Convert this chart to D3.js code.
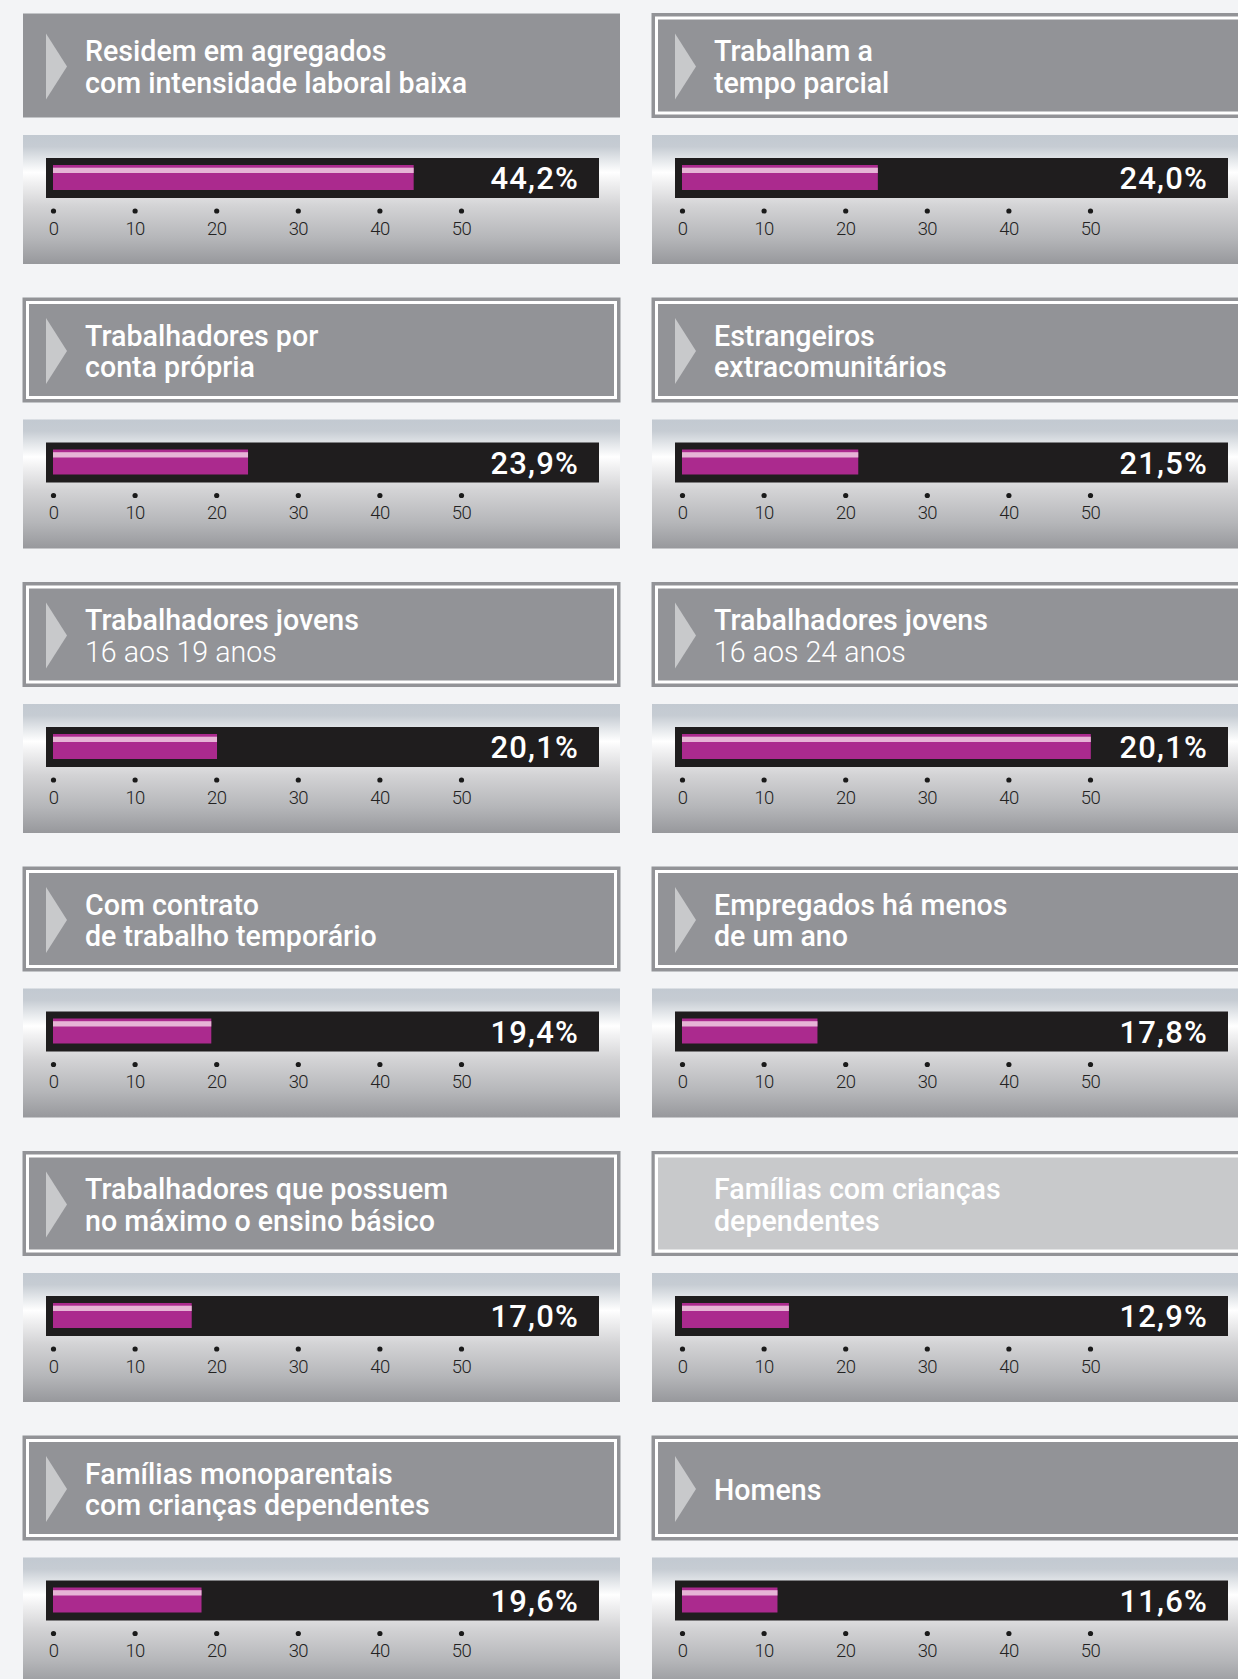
<!DOCTYPE html>
<html><head><meta charset="utf-8">
<script src="https://cdn.jsdelivr.net/npm/d3@7/dist/d3.min.js"></script>
<style>html,body{margin:0;padding:0;background:#f3f4f6;overflow:hidden}</style>
</head><body><svg id="c"></svg>
<script>
// ---- data ----
const titleLine1 = ["Residem em agregados","Trabalham a","Trabalhadores por","Estrangeiros","Trabalhadores jovens","Trabalhadores jovens","Com contrato","Empregados há menos","Trabalhadores que possuem","Famílias com crianças","Famílias monoparentais","Homens"];
const titleLine2 = ["com intensidade laboral baixa","tempo parcial","conta própria","extracomunitários","16 aos 19 anos","16 aos 24 anos","de trabalho temporário","de um ano","no máximo o ensino básico","dependentes","com crianças dependentes",""];
const line2Light = [false,false,false,false,true,true,false,false,false,false,false,false];
const headerKind = ["plain","framed","framed","framed","framed","framed","framed","framed","framed","faded","framed","framed"];
const barValues = [44.2,24.0,23.9,21.6,20.1,50.1,19.4,16.6,17.0,13.1,18.2,11.7];
const valueLabels = ["44,2%","24,0%","23,9%","21,5%","20,1%","20,1%","19,4%","17,8%","17,0%","12,9%","19,6%","11,6%"];
const tickValues = [0,10,20,30,40,50];

// ---- layout ----
const W = 1238, H = 1679;
const colX = [23, 652], panelW = 597;
const row0 = 13.5, pitch = 284.5, headerH = 104, chartOff = 121.5, chartH = 129;

const svg = d3.select("#c").attr("width", W).attr("height", H);
svg.append("rect").attr("width", W).attr("height", H).attr("fill", "#f3f4f6");

const defs = svg.append("defs");
const g = defs.append("linearGradient").attr("id","metal").attr("x1",0).attr("y1",0).attr("x2",0).attr("y2",1);
[[0,"#c2c9d1"],[0.09,"#c6ccd3"],[0.2,"#e6e9ec"],[0.29,"#ffffff"],[0.36,"#f2f2f3"],[0.55,"#d3d3d5"],[0.8,"#b5b6b9"],[1,"#97989c"]]
  .forEach(([o,c]) => g.append("stop").attr("offset",o).attr("stop-color",c));

const x = d3.scaleLinear().domain([0,50]).range([30, 438]);

titleLine1.forEach((t, i) => {
  const col = i % 2, row = Math.floor(i / 2);
  const px = colX[col], hy = row0 + row * pitch;
  const cell = svg.append("g").attr("transform", `translate(${px},${hy})`);
  const kind = headerKind[i];

  // header
  cell.append("rect").attr("width", panelW).attr("height", headerH)
    .attr("fill", kind === "faded" ? "#c8c9cb" : "#929397");
  if (kind !== "plain") {
    cell.append("rect").attr("x", 1).attr("y", 1).attr("width", panelW - 2).attr("height", headerH - 2)
      .attr("fill", "none").attr("stroke", "#929397").attr("stroke-width", 3);
    cell.append("rect").attr("x", 4.5).attr("y", 4.5)
      .attr("width", panelW - 9).attr("height", headerH - 9)
      .attr("fill", "none").attr("stroke", "#ffffff").attr("stroke-width", 3);
  }
  if (kind !== "faded") {
    cell.append("path").attr("d", "M23,20 L44,53 L23,86 Z").attr("fill", "#c8c9cb");
  }
  const two = titleLine2[i] !== "";
  cell.append("text").attr("x", 62).attr("y", two ? 47.5 : 64)
    .attr("fill", "#fff").attr("font-family", "Roboto, sans-serif")
    .attr("font-weight", 500).attr("font-size", 28.6).text(t);
  if (two) {
    cell.append("text").attr("x", 62).attr("y", 79)
      .attr("fill", "#fff").attr("font-family", "Roboto, sans-serif")
      .attr("font-weight", line2Light[i] ? 300 : 500).attr("font-size", 28.6).text(titleLine2[i]);
  }

  // chart panel
  const ch = svg.append("g").attr("transform", `translate(${px},${hy + chartOff})`);
  ch.append("rect").attr("width", panelW).attr("height", chartH).attr("fill", "url(#metal)");
  ch.append("rect").attr("x", 23).attr("y", 23).attr("width", 553).attr("height", 40).attr("fill", "#1f1d1e");
  ch.append("rect").attr("x", x(0)).attr("y", 30).attr("width", x(barValues[i]) - x(0)).attr("height", 25).attr("fill", "#ab2a8e");
  ch.append("rect").attr("x", x(0)).attr("y", 32.7).attr("width", x(barValues[i]) - x(0)).attr("height", 5.3).attr("fill", "#e6b4d6");
  ch.append("text").attr("x", 556).attr("y", 54).attr("text-anchor", "end")
    .attr("fill", "#fff").attr("font-family", "Roboto, sans-serif").attr("font-weight", 500)
    .attr("font-size", 31).attr("letter-spacing", 1.2).text(valueLabels[i]);

  const axis = d3.axisBottom(x).tickValues(tickValues).tickSize(0).tickPadding(0).tickFormat(d3.format("d"));
  const ax = ch.append("g").attr("transform", "translate(0,76)").call(axis);
  ax.select(".domain").remove();
  ax.selectAll(".tick").append("circle").attr("r", 2.6).attr("fill", "#1a1a1a");
  ax.selectAll(".tick text").attr("y", 23.5).attr("dy", 0)
    .attr("fill", "#222").attr("font-family", "Roboto, sans-serif")
    .attr("font-weight", 300).attr("font-size", 18.5).attr("letter-spacing", -0.6);
});
</script></body></html>
